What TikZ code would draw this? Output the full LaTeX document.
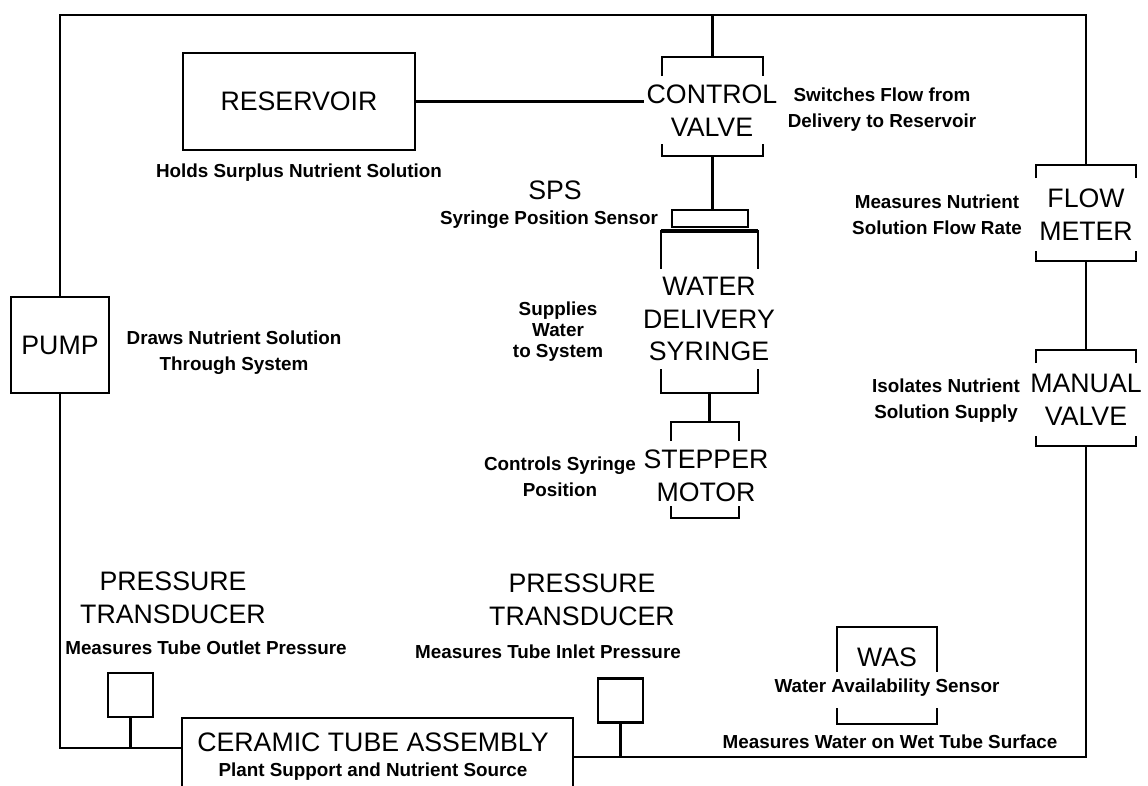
\documentclass[tikz,border=0pt]{standalone}
\usepackage{fontspec}
\setmainfont{Liberation Sans}
\usetikzlibrary{positioning}

\newcommand{\gapframe}[3]{%
  \draw ([yshift=-#2]#1.north west) -- (#1.north west) -- (#1.north east) -- ([yshift=-#2]#1.north east);
  \draw ([yshift=#3]#1.south west) -- (#1.south west) -- (#1.south east) -- ([yshift=#3]#1.south east);
}

\begin{document}
\begin{tikzpicture}[
    x=0.025cm, y=-0.025cm,
    line width=1.6pt,
    unit/.style={font=\fontsize{19}{23.4}\selectfont, align=center, inner sep=0pt},
    note/.style={font=\bfseries\fontsize{13.4}{18.5}\selectfont, align=center, inner sep=0pt},
    box/.style={rectangle, draw, inner sep=0pt, font=\fontsize{19}{23.4}\selectfont},
    frame/.style={rectangle, inner sep=0pt}
]
\useasboundingbox (0,0) rectangle (1148,786);

\node[box, minimum width=5.8cm, minimum height=2.425cm] (res) at (299,101.5) {RESERVOIR};
\node[note, below=0.3cm of res] (resnote) {Holds Surplus Nutrient Solution};

\node[frame, minimum width=2.475cm, minimum height=2.425cm] (valve) at (712.5,106.5) {};
\node[unit] (valvetxt) at (712,111) {CONTROL\\VALVE};
\node[note] (valvenote) at (882,110) {Switches Flow from\\Delivery to Reservoir};

\node[box, minimum width=1.9cm, minimum height=0.425cm] (sps) at (710,218.5) {};
\node[unit] (spstxt) at (555,190) {SPS};
\node[note] (spsnote) at (549,220) {Syringe Position Sensor};

\node[frame, minimum width=2.375cm, minimum height=4cm] (syringe) at (709.5,312) {};
\node[unit] (syringetxt) at (709,319) {WATER\\DELIVERY\\SYRINGE};
\node[note, font=\bfseries\fontsize{13.4}{15}\selectfont] (syringenote) at (558,332) {Supplies\\Water\\to System};

\node[frame, minimum width=1.65cm, minimum height=2.35cm] (stepper) at (705,470) {};
\node[unit] (steppertxt) at (706,476) {STEPPER\\MOTOR};
\node[note] (steppernote) at (560,477) {Controls Syringe\\Position};

\node[frame, minimum width=2.45cm, minimum height=2.35cm] (flow) at (1086,213) {};
\node[unit] (flowtxt) at (1086,215) {FLOW\\METER};
\node[note] (flownote) at (937,215) {Measures Nutrient\\Solution Flow Rate};

\node[frame, minimum width=2.45cm, minimum height=2.35cm] (manual) at (1086,398) {};
\node[unit] (manualtxt) at (1086,400) {MANUAL\\VALVE};
\node[note] (manualnote) at (946,401) {Isolates Nutrient\\Solution Supply};

\node[box, minimum width=2.45cm, minimum height=2.4cm] (pump) at (60,345) {PUMP};
\node[note] (pumpnote) at (234,353) {Draws Nutrient Solution\\Through System};

\node[frame, minimum width=9.725cm, minimum height=1.675cm] (tube) at (377.5,752.5) {};
\node[unit] (tubetxt) at (373,742) {CERAMIC TUBE ASSEMBLY};
\node[note] (tubenote) at (373,772) {Plant Support and Nutrient Source};

\node[box, minimum width=1.125cm, minimum height=1.1cm] (ptout) at (130.5,695) {};
\node[unit] (ptouttxt) at (173,598) {PRESSURE\\TRANSDUCER};
\node[note] (ptoutnote) at (206,648) {Measures Tube Outlet Pressure};

\node[box, minimum width=1.125cm, minimum height=1.1cm] (ptin) at (620.5,700.5) {};
\node[unit] (ptintxt) at (582,600) {PRESSURE\\TRANSDUCER};
\node[note] (ptinnote) at (548,652) {Measures Tube Inlet Pressure};

\node[frame, minimum width=2.45cm, minimum height=2.375cm] (was) at (887,675.5) {};
\node[unit] (wastxt) at (887,657) {WAS};
\node[note] (wasnote) at (887,688) {Water Availability Sensor};
\node[note] (wasnote2) at (890,742) {Measures Water on Wet Tube Surface};

\gapframe{valve}{0.48cm}{0.3cm}
\gapframe{syringe}{0.95cm}{0.6cm}
\gapframe{stepper}{0.48cm}{0.3cm}
\gapframe{flow}{0.33cm}{0.25cm}
\gapframe{manual}{0.33cm}{0.25cm}
\gapframe{was}{1.12cm}{0.4cm}
\draw[line width=2.6pt] (syringe.north west) -- (syringe.north east);
\draw (tube.south west) |- (tube.north east) -- (tube.south east);

\coordinate (tr) at (1086,15);
\coordinate (bl) at (60,748);
\coordinate (br) at (1086,757);

\draw (pump.north) |- (tr) -- (flow.north);
\draw (valve.north) -- (valve.north |- tr);
\draw (res.east) -- ([xshift=-0.05cm]valvetxt.west |- res.east);
\draw (valve.south) -- (valve.south |- sps.north);
\draw (syringe.south) -- (syringe.south |- stepper.north);
\draw (flow.south) -- (manual.north);
\draw (manual.south) -- (br) -- (br -| tube.east);
\draw (pump.south) -- (bl) -- (bl -| tube.west);
\draw (ptout.south) -- (ptout.south |- bl);
\draw (ptin.south) -- (ptin.south |- br);

\end{tikzpicture}
\end{document}
